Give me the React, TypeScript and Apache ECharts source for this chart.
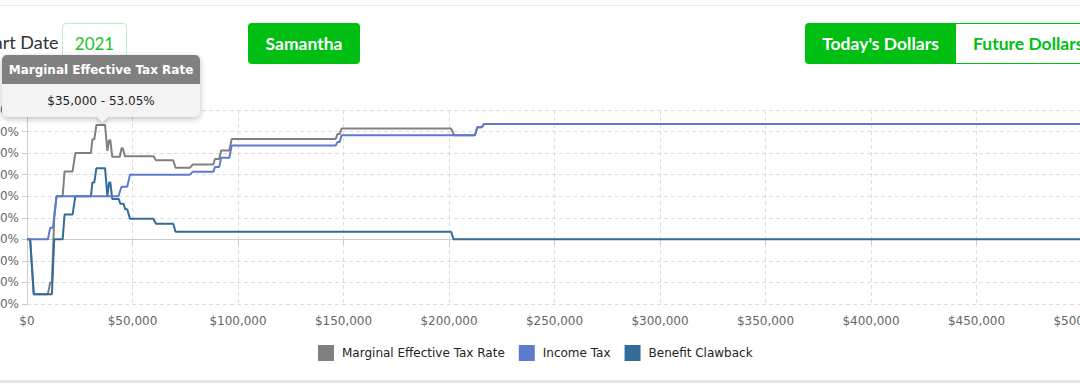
import React, { useEffect, useRef } from "react";
import * as echarts from "echarts";

const seriesNames = ["Marginal Effective Tax Rate", "Income Tax", "Benefit Clawback"];
const seriesColors = ["#808080", "#5d7acd", "#336c99"];

const mtrIncome = [0, 1500, 3200, 9900, 11000, 11800, 12900, 14000, 16900, 17800, 21600, 22900, 30300, 31000, 31900, 32900, 37000, 38100, 38900, 39500, 40400, 44000, 44800, 45400, 46400, 59900, 61100, 69300, 70400, 77200, 78500, 88300, 89100, 91100, 92000, 95900, 97000, 146300, 147200, 148200, 149100, 201000, 202400, 212300, 213400, 215500, 216600, 500000];
const mtrRate = [0, 0, -25.5, -25.5, -20, -20, 10, 20, 20, 31.5, 31.5, 40, 40, 46.4, 46.4, 53.05, 53.05, 41, 46, 46, 38.3, 38.3, 42.3, 42.3, 38.6, 38.6, 36.7, 36.7, 33.2, 33.2, 34.7, 34.7, 37.3, 37.3, 41.2, 41.2, 46.6, 46.6, 48.9, 48.9, 51.4, 51.4, 48.3, 48.3, 52, 52, 53.5, 53.5];

const taxIncome = [0, 9900, 11000, 12300, 14000, 43300, 44800, 47500, 48800, 77200, 78500, 88300, 89100, 91100, 92000, 95900, 97000, 146300, 147200, 148200, 149100, 212300, 213400, 215500, 216600, 500000];
const taxRate = [0, 0, 5.4, 5.4, 20, 20, 24.4, 24.4, 30, 30, 31.3, 31.3, 33.6, 33.6, 37.8, 37.8, 43.5, 43.5, 45.2, 45.2, 48.3, 48.3, 52, 52, 53.5, 53.5];

const clawIncome = [0, 1500, 3200, 11800, 12900, 16900, 17800, 21600, 22900, 30300, 31000, 31900, 32900, 37000, 38100, 38900, 39500, 40400, 43500, 44200, 45800, 46500, 47500, 48800, 59900, 61100, 69300, 70400, 201000, 202200, 500000];
const clawRate = [0, 0, -25.5, -25.5, 0, 0, 11.5, 11.5, 20, 20, 26.4, 26.4, 33, 33, 20, 26.4, 26.4, 18.7, 18.7, 16.5, 16.5, 14, 14, 9.6, 9.6, 7.2, 7.2, 3.5, 3.5, 0, 0];

const tooltipTitle = "Marginal Effective Tax Rate";
const tooltipText = "$35,000 - 53.05%";

const pairs = (xs: number[], ys: number[]) => xs.map((x, i) => [x, ys[i]]);

const AXIS_FONT = "'DejaVu Sans', Verdana, sans-serif";
const UI_FONT = "Lato, 'Open Sans', sans-serif";

function Chart() {
  const ref = useRef<HTMLDivElement>(null);
  useEffect(() => {
    if (!ref.current) return;
    const chart = echarts.init(ref.current, undefined, { renderer: "svg" });
    const lineSeries = (idx: number, data: number[][], z: number) => ({
      name: seriesNames[idx],
      type: "line",
      data,
      showSymbol: false,
      symbol: "none",
      z,
      lineStyle: { width: 2, color: seriesColors[idx] },
      itemStyle: { color: seriesColors[idx] },
    });
    chart.setOption({
      animation: false,
      color: seriesColors,
      grid: { left: 27, top: 110, width: 1055, height: 194, containLabel: false, outerBoundsMode: "none" },
      legend: {
        data: seriesNames,
        left: 318,
        top: 345,
        padding: 0,
        icon: "rect",
        itemWidth: 16,
        itemHeight: 16,
        itemGap: 14,
        textStyle: { fontFamily: AXIS_FONT, fontSize: 12, color: "#222", padding: [0, 0, 0, 3] },
      },
      xAxis: {
        type: "value",
        min: 0,
        max: 500000,
        interval: 50000,
        axisLine: { show: true, lineStyle: { color: "#cccccc" } },
        axisTick: { show: true, length: 6, lineStyle: { color: "#cccccc" } },
        axisLabel: {
          fontFamily: AXIS_FONT,
          fontSize: 12,
          color: "#666",
          margin: 11,
          formatter: (v: number) => "$" + v.toLocaleString("en-US"),
        },
        splitLine: { show: true, lineStyle: { color: "#dddddd", type: [4, 3] } },
      },
      yAxis: {
        type: "value",
        min: -30,
        max: 60,
        interval: 10,
        axisLine: { show: true, lineStyle: { color: "#cccccc" } },
        axisTick: { show: true, length: 5, lineStyle: { color: "#cccccc" } },
        axisLabel: { fontFamily: AXIS_FONT, fontSize: 12, color: "#666", margin: 8, formatter: "{value}%" },
        splitLine: { show: true, lineStyle: { color: "#dddddd", type: [4, 3] } },
      },
      series: [
        lineSeries(0, pairs(mtrIncome, mtrRate), 2),
        lineSeries(2, pairs(clawIncome, clawRate), 3),
        lineSeries(1, pairs(taxIncome, taxRate), 4),
      ],
    });
    return () => chart.dispose();
  }, []);
  return <div ref={ref} style={{ position: "absolute", left: 0, top: 0, width: 1120, height: 389 }} />;
}

const btnBase: React.CSSProperties = {
  position: "absolute",
  top: 23,
  height: 41,
  boxSizing: "border-box",
  display: "flex",
  alignItems: "center",
  justifyContent: "center",
  fontFamily: UI_FONT,
  fontWeight: 700,
  fontSize: 17.5,
  borderRadius: 4,
};

export default function App() {
  return (
    <div
      style={{
        position: "absolute",
        left: 0,
        top: 0,
        width: 1080,
        height: 389,
        overflow: "hidden",
        background: "#ffffff",
      }}
    >
      <Chart />
      <div style={{ position: "absolute", left: 0, top: 5, width: 1080, height: 1, background: "#e9eef4" }} />
      <div style={{ position: "absolute", left: 0, top: 380, width: 1080, height: 3, background: "#e6e6ea" }} />
      <div
        style={{
          position: "absolute",
          left: -22,
          top: 31,
          fontFamily: UI_FONT,
          fontSize: 18,
          color: "#333",
          whiteSpace: "nowrap",
        }}
      >
        Start Date
      </div>
      <div
        style={{
          ...btnBase,
          left: 62,
          width: 65,
          border: "1px solid #bdeec4",
          color: "#18c22f",
          fontWeight: 400,
          fontSize: 17,
          background: "#fff",
        }}
      >
        2021
      </div>
      <div style={{ ...btnBase, left: 248, width: 112, background: "#00bf13", color: "#fff" }}>Samantha</div>
      <div
        style={{
          ...btnBase,
          left: 805,
          width: 151,
          background: "#00bf13",
          color: "#fff",
          borderRadius: "4px 0 0 4px",
        }}
      >
        Today's Dollars
      </div>
      <div
        style={{
          ...btnBase,
          left: 955,
          width: 152,
          background: "#fff",
          color: "#00bf13",
          border: "1.5px solid #00bf13",
          borderRadius: "0 4px 4px 0",
          justifyContent: "flex-start",
          paddingLeft: 17,
        }}
      >
        Future Dollars
      </div>
      <div
        style={{
          position: "absolute",
          left: 2,
          top: 55,
          width: 198,
          height: 62,
          borderRadius: 5,
          background: "#f3f3f3",
          boxShadow: "0 2px 6px rgba(0,0,0,0.25)",
          fontFamily: AXIS_FONT,
          fontSize: 12,
        }}
      >
        <div
          style={{
            position: "absolute",
            left: 96,
            top: 57,
            width: 9,
            height: 9,
            background: "#f3f3f3",
            transform: "rotate(45deg)",
            boxShadow: "2px 2px 3px rgba(0,0,0,0.15)",
          }}
        />
        <div
          style={{
            position: "relative",
            height: 29,
            background: "#808080",
            color: "#fff",
            fontWeight: 700,
            borderRadius: "5px 5px 0 0",
            display: "flex",
            alignItems: "center",
            justifyContent: "center",
            whiteSpace: "nowrap",
          }}
        >
          {tooltipTitle}
        </div>
        <div
          style={{
            position: "relative",
            height: 33,
            color: "#222",
            display: "flex",
            alignItems: "center",
            justifyContent: "center",
            whiteSpace: "nowrap",
          }}
        >
          {tooltipText}
        </div>
      </div>
    </div>
  );
}
